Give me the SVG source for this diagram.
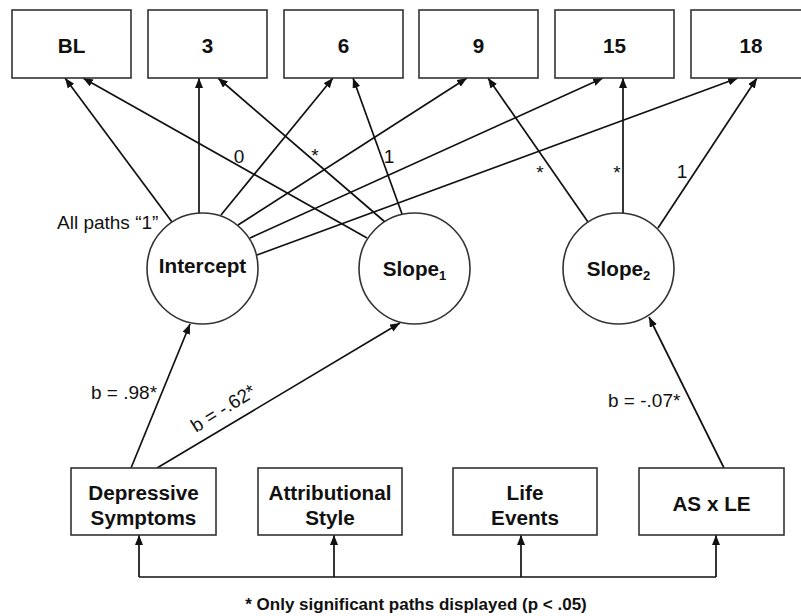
<svg xmlns="http://www.w3.org/2000/svg" width="801" height="616" viewBox="0 0 801 616">
<defs>
<marker id="ah" markerUnits="userSpaceOnUse" markerWidth="12" markerHeight="10" refX="10" refY="4" orient="auto">
<path d="M0,0 L10,4 L0,8 Z" fill="#111"/>
</marker>
<style>
.box{fill:#fff;stroke:#333;stroke-width:1.6}
.circ{fill:#fff;stroke:#333;stroke-width:1.6}
.bt{font-family:"Liberation Sans",Arial,sans-serif;font-weight:bold;font-size:20.7px;fill:#111;text-anchor:middle}
.lbl{font-family:"Liberation Sans",Arial,sans-serif;font-size:19px;fill:#111}
.c{text-anchor:middle}
.ln{stroke:#111;stroke-width:1.7;fill:none;marker-end:url(#ah)}
.pl{stroke:#111;stroke-width:1.7;fill:none}
</style>
</defs>
<rect width="801" height="616" fill="#fff"/>

<g id="connectors">
<!-- Intercept to waves -->
<line class="ln" x1="172" y1="222" x2="65" y2="78"/>
<line class="ln" x1="199" y1="213" x2="199" y2="78"/>
<line class="ln" x1="221" y1="215" x2="333" y2="78"/>
<line class="ln" x1="238" y1="225" x2="467" y2="78"/>
<line class="ln" x1="250" y1="238" x2="603" y2="78"/>
<line class="ln" x1="257" y1="255" x2="738" y2="78"/>
<!-- Slope1 -->
<line class="ln" x1="367" y1="238" x2="83" y2="78"/>
<line class="ln" x1="385" y1="222" x2="218" y2="78"/>
<line class="ln" x1="402" y1="214" x2="353" y2="78"/>
<!-- Slope2 -->
<line class="ln" x1="588" y1="222" x2="488" y2="78"/>
<line class="ln" x1="623" y1="213" x2="623" y2="78"/>
<line class="ln" x1="658" y1="228" x2="757" y2="78"/>
<!-- predictors -->
<line class="ln" x1="131" y1="468" x2="190" y2="324"/>
<line class="ln" x1="157" y1="468" x2="400" y2="323"/>
<line class="ln" x1="724" y1="468" x2="649" y2="317"/>
<!-- correlations bracket -->
<polyline class="pl" points="139,577 716,577"/>
<line class="ln" x1="139" y1="577" x2="139" y2="535"/>
<line class="ln" x1="334" y1="577" x2="334" y2="535"/>
<line class="ln" x1="521" y1="577" x2="521" y2="535"/>
<line class="ln" x1="716" y1="577" x2="716" y2="535"/>
</g>

<g id="labels">
<text class="lbl c" x="239" y="163">0</text>
<text class="lbl c" x="315" y="162">*</text>
<text class="lbl c" x="389" y="163">1</text>
<text class="lbl c" x="540" y="179">*</text>
<text class="lbl c" x="617" y="179">*</text>
<text class="lbl c" x="682" y="178">1</text>
<text class="lbl" x="57" y="229">All paths “1”</text>
<text class="lbl" x="91" y="399">b = .98*</text>
<text class="lbl" transform="translate(196,433) rotate(-32)">b = -.62*</text>
<text class="lbl" x="608" y="407">b = -.07*</text>
</g>

<g id="wBL"><rect class="box" x="12" y="10" width="119" height="68"/><text class="bt" x="71.5" y="53">BL</text></g>
<g id="w3"><rect class="box" x="148" y="10" width="119" height="68"/><text class="bt" x="207.5" y="53">3</text></g>
<g id="w6"><rect class="box" x="284" y="10" width="119" height="68"/><text class="bt" x="343.5" y="53">6</text></g>
<g id="w9"><rect class="box" x="419" y="10" width="119" height="68"/><text class="bt" x="478.5" y="53">9</text></g>
<g id="w15"><rect class="box" x="555" y="10" width="119" height="68"/><text class="bt" x="614.5" y="53">15</text></g>
<g id="w18"><rect class="box" x="691" y="10" width="119" height="68"/><text class="bt" x="751" y="53">18</text></g>

<g id="intercept"><circle class="circ" cx="202.5" cy="268.5" r="55.5"/><text class="bt" x="202.5" y="273">Intercept</text></g>
<g id="slope1"><circle class="circ" cx="414.5" cy="268.5" r="55.5"/><text class="bt" x="414.5" y="276">Slope<tspan font-size="13" dy="4">1</tspan></text></g>
<g id="slope2"><circle class="circ" cx="618.5" cy="268.5" r="55.5"/><text class="bt" x="618.5" y="276">Slope<tspan font-size="13" dy="4">2</tspan></text></g>

<g id="dep"><rect class="box" x="71" y="468" width="145" height="67"/><text class="bt" x="143.5" y="500">Depressive</text><text class="bt" x="143.5" y="525">Symptoms</text></g>
<g id="att"><rect class="box" x="258" y="468" width="144" height="67"/><text class="bt" x="330" y="500">Attributional</text><text class="bt" x="330" y="525">Style</text></g>
<g id="life"><rect class="box" x="453" y="468" width="144" height="67"/><text class="bt" x="525" y="500">Life</text><text class="bt" x="525" y="525">Events</text></g>
<g id="asle"><rect class="box" x="639" y="468" width="145" height="67"/><text class="bt" x="711.5" y="511">AS x LE</text></g>

<text x="416" y="610" font-family="'Liberation Sans',Arial,sans-serif" font-weight="bold" font-size="17" fill="#111" text-anchor="middle">* Only significant paths displayed (p &lt; .05)</text>
</svg>
